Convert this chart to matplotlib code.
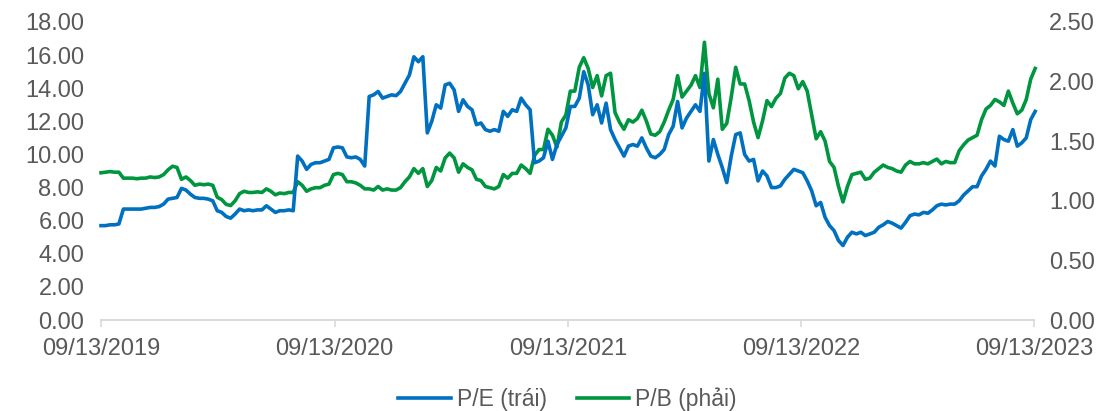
import matplotlib
matplotlib.use("Agg")
import matplotlib.pyplot as plt
import matplotlib.dates as mdates
import pandas as pd

plt.rcParams['font.family'] = ['Liberation Sans', 'DejaVu Sans']

# số liệu tuần
pe = [5.7, 5.7, 5.75, 5.75, 5.8, 6.7, 6.7, 6.7, 6.7, 6.7,
      6.75, 6.8, 6.8, 6.85, 7.0, 7.3, 7.35, 7.4, 7.95, 7.85,
      7.6, 7.4, 7.35, 7.35, 7.3, 7.2, 6.6, 6.5, 6.25, 6.15,
      6.4, 6.7, 6.6, 6.65, 6.6, 6.65, 6.65, 6.9, 6.7, 6.5,
      6.6, 6.6, 6.65, 6.6, 9.9, 9.6, 9.1, 9.4, 9.5, 9.5,
      9.6, 9.7, 10.4, 10.45, 10.4, 9.85, 9.8, 9.85, 9.7, 9.3,
      13.5, 13.6, 13.8, 13.4, 13.5, 13.6, 13.55, 13.8, 14.3, 14.8,
      15.9, 15.6, 15.9, 11.3, 12.0, 13.0, 12.8, 14.2, 14.3, 13.9,
      12.6, 13.3, 12.9, 12.7, 11.8, 11.9, 11.5, 11.4, 11.5, 11.4,
      12.6, 12.3, 12.7, 12.6, 13.4, 13.0, 12.7, 9.5, 9.6, 9.8,
      10.8, 9.7, 10.6, 11.1, 11.6, 12.9, 12.9, 13.4, 15.0, 14.2,
      12.4, 13.0, 11.9, 13.1, 11.5, 10.9, 10.4, 9.9, 10.5, 10.6,
      10.5, 11.0, 10.4, 9.9, 9.8, 10.0, 10.3, 11.2, 11.7, 13.2,
      11.6, 12.2, 12.6, 13.0, 12.6, 14.9, 9.6, 10.9, 10.0, 9.2,
      8.3, 9.9, 11.2, 11.3, 10.0, 9.6, 9.7, 8.4, 9.0, 8.7,
      8.0, 8.0, 8.1, 8.5, 8.8, 9.1, 9.0, 8.9, 8.4, 7.8,
      6.9, 7.1, 6.2, 5.7, 5.4, 4.8, 4.5, 5.0, 5.3, 5.2,
      5.3, 5.1, 5.2, 5.3, 5.6, 5.75, 5.95, 5.85, 5.7, 5.55,
      5.9, 6.3, 6.4, 6.35, 6.5, 6.45, 6.65, 6.9, 7.0, 6.95,
      7.0, 7.0, 7.2, 7.55, 7.8, 8.05, 8.05, 8.7, 9.1, 9.6,
      9.3, 11.1, 10.9, 10.8, 11.5, 10.5, 10.7, 11.0, 12.1, 12.6]

pb = [1.235, 1.24, 1.245, 1.24, 1.24, 1.19, 1.19, 1.19, 1.185, 1.19,
      1.19, 1.20, 1.195, 1.20, 1.22, 1.26, 1.29, 1.28, 1.18, 1.20,
      1.17, 1.13, 1.14, 1.135, 1.14, 1.13, 1.03, 1.01, 0.97, 0.96,
      1.0, 1.06, 1.08, 1.07, 1.07, 1.075, 1.07, 1.10, 1.08, 1.05,
      1.065, 1.06, 1.07, 1.07, 1.16, 1.13, 1.08, 1.10, 1.11, 1.11,
      1.13, 1.14, 1.22, 1.23, 1.22, 1.16, 1.16, 1.15, 1.13, 1.10,
      1.10, 1.09, 1.12, 1.09, 1.10, 1.09, 1.09, 1.11, 1.16, 1.20,
      1.27, 1.23, 1.27, 1.12, 1.17, 1.28, 1.25, 1.36, 1.40, 1.36,
      1.24, 1.31, 1.28, 1.26, 1.18, 1.17, 1.12, 1.11, 1.10, 1.12,
      1.22, 1.19, 1.23, 1.23, 1.30, 1.27, 1.23, 1.38, 1.43, 1.43,
      1.60, 1.55, 1.45, 1.66, 1.72, 1.92, 1.92, 2.12, 2.20, 2.11,
      1.95, 2.05, 1.88, 2.05, 2.07, 1.74, 1.66, 1.60, 1.68, 1.66,
      1.69, 1.76, 1.67, 1.56, 1.55, 1.58, 1.66, 1.76, 1.85, 2.05,
      1.87, 1.92, 1.97, 2.05, 1.95, 2.33, 1.90, 1.78, 2.02, 1.60,
      1.65, 1.87, 2.12, 1.98, 1.98, 1.84, 1.66, 1.53, 1.67, 1.84,
      1.79, 1.86, 1.90, 2.03, 2.07, 2.05, 1.94, 2.00, 1.92, 1.72,
      1.52, 1.58, 1.50, 1.33, 1.28, 1.12, 0.99, 1.12, 1.22, 1.23,
      1.24, 1.18, 1.19, 1.24, 1.27, 1.30, 1.28, 1.27, 1.25, 1.24,
      1.30, 1.33, 1.31, 1.31, 1.32, 1.31, 1.33, 1.35, 1.31, 1.33,
      1.32, 1.32, 1.42, 1.47, 1.51, 1.53, 1.55, 1.68, 1.77, 1.80,
      1.85, 1.83, 1.80, 1.92, 1.82, 1.73, 1.76, 1.85, 2.02, 2.11]

ngay = pd.date_range("2019-09-13", periods=len(pe), freq="7D")
nhan_x = ["09/13/2019", "09/13/2020", "09/13/2021", "09/13/2022", "09/13/2023"]
moc_x = pd.to_datetime(nhan_x, format="%m/%d/%Y")

xam = "#595959"
xanh_duong = "#0070C0"
xanh_la = "#00963F"

fig = plt.figure(figsize=(11.04, 4.11), dpi=100)
ax = fig.add_axes([0.0915, 0.2214, 0.845, 0.7251])
ax2 = ax.twinx()

l1, = ax.plot(ngay, pe, color=xanh_duong, lw=2.6, label="P/E (trái)", clip_on=False)
l2, = ax2.plot(ngay, pb, color=xanh_la, lw=2.6, label="P/B (phải)", clip_on=False)
ax.set_zorder(ax2.get_zorder() + 1)
ax.patch.set_visible(False)

ax.set_ylim(0, 18)
ax.set_yticks(range(0, 19, 2))
ax.set_yticklabels([f"{v:.2f}" for v in range(0, 19, 2)])
ax2.set_ylim(0, 2.5)
ax2.set_yticks([0, 0.5, 1.0, 1.5, 2.0, 2.5])
ax2.set_yticklabels([f"{v:.2f}" for v in [0, 0.5, 1.0, 1.5, 2.0, 2.5]])

ax.set_xlim(moc_x[0], moc_x[-1])
ax.set_xticks(moc_x)
ax.set_xticklabels(nhan_x)

for a in (ax, ax2):
    for s in ("top", "left", "right"):
        a.spines[s].set_visible(False)
    a.spines["bottom"].set_color("#D9D9D9")
    a.spines["bottom"].set_linewidth(1.2)

ax.tick_params(axis="y", length=0, pad=12, labelsize=17, labelcolor=xam)
ax2.tick_params(axis="y", length=0, pad=11, labelsize=17, labelcolor=xam)
ax.tick_params(axis="x", length=5, width=1.2, color="#D9D9D9", pad=8,
               labelsize=17, labelcolor=xam)

leg = ax.legend(handles=[l1, l2], loc="center", bbox_to_anchor=(0.5, -0.265),
                ncol=2, frameon=False, fontsize=16.5, handlelength=2.3,
                columnspacing=1.3, handletextpad=0.25)
for t in leg.get_texts():
    t.set_color(xam)

fig.savefig("out.png", dpi=100)
